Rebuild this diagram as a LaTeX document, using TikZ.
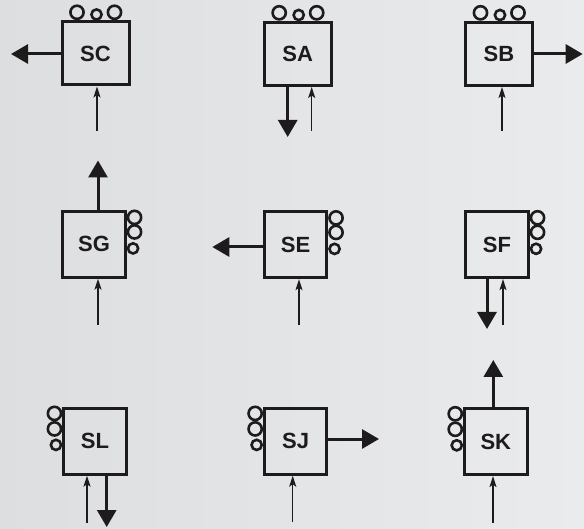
\documentclass[tikz,border=0pt]{standalone}
\usepackage{fontspec}
\setmainfont{Liberation Sans}
\usetikzlibrary{arrows.meta,calc}
\definecolor{ink}{HTML}{1E1B1C}
\definecolor{bgL}{RGB}{221,222,224}
\definecolor{bgR}{RGB}{234,235,237}
\newcommand\topcircs[1]{%
  \draw[ring] ($(#1.north west)+(16.5,-8.2)$) circle[radius=6.6pt];
  \draw[ring] ($(#1.north west)+(36,-6)$) circle[radius=5.1pt];
  \draw[ring] ($(#1.north west)+(54,-8.2)$) circle[radius=6.6pt];}
\newcommand\rightcircs[1]{%
  \draw[ring] ($(#1.north east)+(7.8,7.5)$) circle[radius=6.6pt];
  \draw[ring] ($(#1.north east)+(7.8,22)$) circle[radius=6.6pt];
  \draw[ring] ($(#1.north east)+(6.3,38.5)$) circle[radius=5.1pt];}
\newcommand\leftcircs[1]{%
  \draw[ring] ($(#1.north west)+(-7.8,6.5)$) circle[radius=6.6pt];
  \draw[ring] ($(#1.north west)+(-7.8,22)$) circle[radius=6.6pt];
  \draw[ring] ($(#1.north west)+(-6.3,38)$) circle[radius=5.1pt];}
\begin{document}
\begin{tikzpicture}[x=1pt,y=-1pt,
  boxbase/.style={draw=ink, line width=3pt, inner sep=0pt, text=ink,
    font=\bfseries\fontsize{22}{22}\selectfont},
  boxtop/.style={boxbase, minimum width=67pt, minimum height=63pt},
  boxside/.style={boxbase, minimum width=62.5pt, minimum height=65.8pt},
  ring/.style={draw=ink, line width=2.6pt},
  outarrow/.style={draw=ink, line width=3pt, -{Triangle[length=17pt,width=19pt]}},
  inarrow/.style={draw=ink, line width=1.4pt, -{Stealth[length=11pt,width=7pt,inset=2.5pt]}}]
\fill[left color=bgL, right color=bgR] (0,0) rectangle (584,529);
\useasboundingbox (0,0) rectangle (584,529);

% boxes
\node[boxtop] (SC) at (95.5,53.5) {SC};
\node[boxtop] (SA) at (297.7,54) {SA};
\node[boxtop] (SB) at (499,54) {SB};
\node[boxside] (SG) at (94,244.3) {SG};
\node[boxside] (SE) at (295.5,244.8) {SE};
\node[boxside] (SF) at (497,244.7) {SF};
\node[boxside] (SL) at (95,441.3) {SL};
\node[boxside] (SJ) at (295.7,441.3) {SJ};
\node[boxside] (SK) at (495.8,441.7) {SK};

% rings
\topcircs{SC}\topcircs{SA}\topcircs{SB}
\rightcircs{SG}\rightcircs{SE}\rightcircs{SF}
\leftcircs{SL}\leftcircs{SJ}\leftcircs{SK}

% free ends
\coordinate (scO) at (11,54);    \coordinate (scI) at (97,131);
\coordinate (saO) at (287.7,137); \coordinate (saI) at (311.7,131);
\coordinate (sbO) at (582.7,54); \coordinate (sbI) at (502,131);
\coordinate (sgO) at (98,160.5); \coordinate (sgI) at (98,325);
\coordinate (seO) at (212.3,247); \coordinate (seI) at (299,325);
\coordinate (sfO) at (487,329);  \coordinate (sfI) at (503,325);
\coordinate (slO) at (106.7,527); \coordinate (slI) at (87,523);
\coordinate (sjO) at (379,439);  \coordinate (sjI) at (292.7,522);
\coordinate (skO) at (493.3,360); \coordinate (skI) at (493,523);

% outputs
\draw[outarrow] (SC.west |- scO) -- (scO);
\draw[outarrow] (saO |- SA.south) -- (saO);
\draw[outarrow] (SB.east |- sbO) -- (sbO);
\draw[outarrow] (sgO |- SG.north) -- (sgO);
\draw[outarrow] (SE.west |- seO) -- (seO);
\draw[outarrow] (sfO |- SF.south) -- (sfO);
\draw[outarrow] (slO |- SL.south) -- (slO);
\draw[outarrow] (SJ.east |- sjO) -- (sjO);
\draw[outarrow] (skO |- SK.north) -- (skO);

% inputs
\draw[inarrow] (scI) -- (scI |- SC.south);
\draw[inarrow] (saI) -- (saI |- SA.south);
\draw[inarrow] (sbI) -- (sbI |- SB.south);
\draw[inarrow] (sgI) -- (sgI |- SG.south);
\draw[inarrow] (seI) -- (seI |- SE.south);
\draw[inarrow] (sfI) -- (sfI |- SF.south);
\draw[inarrow] (slI) -- (slI |- SL.south);
\draw[inarrow] (sjI) -- (sjI |- SJ.south);
\draw[inarrow] (skI) -- (skI |- SK.south);
\end{tikzpicture}
\end{document}
